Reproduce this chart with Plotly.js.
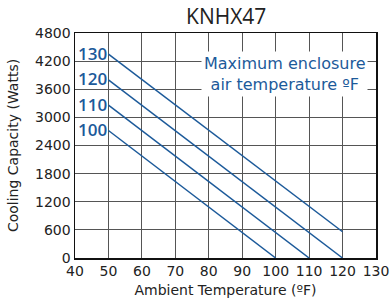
<!DOCTYPE html>
<html>
<head>
<meta charset="utf-8">
<script src="https://cdn.plot.ly/plotly-3.0.1.min.js"></script>
<style>html,body{margin:0;padding:0;background:#fff;}#chart{width:390px;height:302px;}</style>
</head>
<body>
<div id="chart"></div>
<script>
// Maximum enclosure air temperature (°F) for each line
const enclosureTemps = ['100', '110', '120', '130'];
// Ambient temperature (°F) endpoints of each line
const ambient100 = [50, 100];
const ambient110 = [50, 110];
const ambient120 = [50, 120];
const ambient130 = [50, 120];
// Cooling capacity (Watts)
const capacity100 = [2720, 0];
const capacity110 = [3260, 0];
const capacity120 = [3800, 0];
const capacity130 = [4350, 560];

const xTicks = [40, 50, 60, 70, 80, 90, 100, 110, 120, 130];
const yTicks = [0, 600, 1200, 1800, 2400, 3000, 3600, 4200, 4800];

const blue = '#1c5a9a';
const font = 'DejaVu Sans, sans-serif';
const titleFont = 'Open Sans, Noto Sans, sans-serif';

const seriesX = [ambient100, ambient110, ambient120, ambient130];
const seriesY = [capacity100, capacity110, capacity120, capacity130];

const traces = enclosureTemps.map((name, i) => ({
  type: 'scatter', mode: 'lines', name: name,
  x: seriesX[i], y: seriesY[i],
  line: {color: blue, width: 1.5},
  hoverinfo: 'skip'
}));

const annotations = enclosureTemps.map((name, i) => ({
  x: seriesX[i][0], y: seriesY[i][0], xref: 'x', yref: 'y',
  text: name, showarrow: false, xanchor: 'right', yanchor: 'middle',
  xshift: 1, yshift: 1,
  font: {family: titleFont, size: 17, color: blue, weight: 600}
}));
annotations.push({
  x: 0.695, y: 0.82, xref: 'paper', yref: 'paper',
  text: 'Maximum enclosure<br>air temperature ºF',
  showarrow: false, xanchor: 'center', yanchor: 'middle',
  bgcolor: '#ffffff', borderpad: 2,
  font: {family: font, size: 16, color: blue}
});

const layout = {
  width: 390, height: 302,
  margin: {l: 75, r: 14, t: 33, b: 44},
  paper_bgcolor: '#fff', plot_bgcolor: '#fff',
  showlegend: false,
  title: {text: 'KNHX47', x: 0.58, xanchor: 'center', y: 0.945, yanchor: 'middle',
          font: {family: titleFont, size: 21, color: '#222'}},
  xaxis: {
    range: [40, 130], tickvals: xTicks, ticktext: xTicks.map(String),
    showgrid: true, gridcolor: '#555', gridwidth: 1,
    showline: true, linecolor: '#111', linewidth: 1.5, mirror: true,
    zeroline: false, ticks: '',
    tickfont: {family: font, size: 14, color: '#222'},
    title: {text: 'Ambient Temperature (ºF)', standoff: 7,
            font: {family: font, size: 14, color: '#222'}}
  },
  yaxis: {
    range: [0, 4800], tickvals: yTicks, ticktext: yTicks.map(String),
    showgrid: true, gridcolor: '#555', gridwidth: 1,
    showline: true, linecolor: '#111', linewidth: 1.5, mirror: true,
    zeroline: false, ticks: '',
    tickfont: {family: font, size: 14, color: '#222'},
    title: {text: 'Cooling Capacity (Watts)', standoff: 13,
            font: {family: font, size: 14, color: '#222'}}
  },
  annotations: annotations
};

Plotly.newPlot('chart', traces, layout, {displayModeBar: false, staticPlot: true});
</script>
</body>
</html>
